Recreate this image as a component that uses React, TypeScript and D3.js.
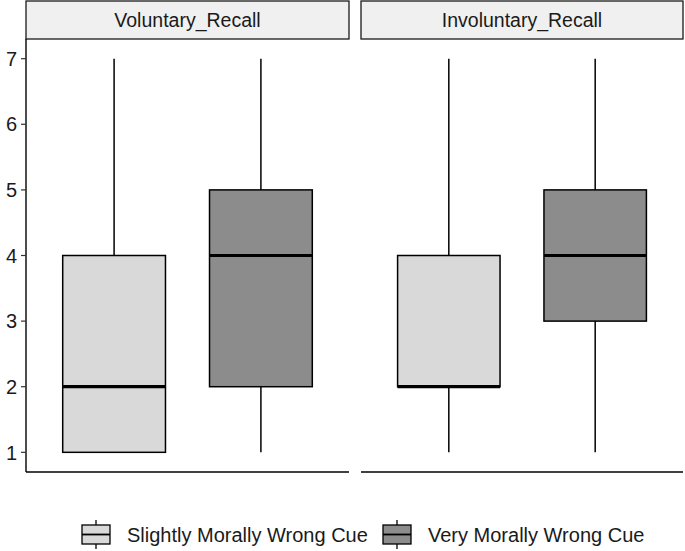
import React from "react";
import * as d3 from "d3";

const facets = ["Voluntary_Recall", "Involuntary_Recall"];
const groups = ["Slightly Morally Wrong Cue", "Very Morally Wrong Cue"];
const groupColors = ["#d9d9d9", "#8c8c8c"];
// [facet][group] = [min, q1, median, q3, max]
const voluntaryStats = [
  [1, 1, 2, 4, 7],
  [1, 2, 4, 5, 7],
];
const involuntaryStats = [
  [1, 2, 2, 4, 7],
  [1, 3, 4, 5, 7],
];
const statsByFacet = [voluntaryStats, involuntaryStats];
const yTicks = [1, 2, 3, 4, 5, 6, 7];

const FONT = "Arial, 'Liberation Sans', sans-serif";

export default function App() {
  const width = 685;
  const height = 551;
  const panelTop = 39;
  const panelBottom = 472;
  const stripTop = 1;
  const panels = [
    { x0: 26, x1: 349 },
    { x0: 361, x1: 683 },
  ];
  const y = d3.scaleLinear().domain([0.7, 7.3]).range([panelBottom, panelTop]);

  return (
    <svg
      width={width}
      height={height}
      style={{ position: "absolute", left: 0, top: 0, background: "#fff" }}
      fontFamily={FONT}
    >
      {panels.map((p, fi) => {
        // discrete positions 1,2 with ggplot-like expansion of 0.6
        const xl = d3.scaleLinear().domain([0.4, 2.6]).range([p.x0, p.x1]);
        const unit = xl(1) - xl(0);
        const boxW = unit * 0.7;
        return (
          <g key={facets[fi]}>
            <rect
              x={p.x0}
              y={stripTop}
              width={p.x1 - p.x0}
              height={panelTop - stripTop}
              fill="#f0f0f0"
              stroke="#1a1a1a"
              strokeWidth={1.3}
            />
            <text
              x={(p.x0 + p.x1) / 2}
              y={(stripTop + panelTop) / 2}
              dy="0.36em"
              textAnchor="middle"
              fontSize={19.5}
              fill="#1a1a1a"
            >
              {facets[fi]}
            </text>
            <line x1={p.x0} x2={p.x1} y1={panelBottom} y2={panelBottom} stroke="#000" strokeWidth={1.4} />
            {groups.map((g, gi) => {
              const s = statsByFacet[fi][gi];
              const cx = xl(gi + 1);
              return (
                <g key={g}>
                  <line x1={cx} x2={cx} y1={y(s[0])} y2={y(s[4])} stroke="#000" strokeWidth={1.5} />
                  <rect
                    x={cx - boxW / 2}
                    y={y(s[3])}
                    width={boxW}
                    height={y(s[1]) - y(s[3])}
                    fill={groupColors[gi]}
                    stroke="#000"
                    strokeWidth={1.5}
                  />
                  <line
                    x1={cx - boxW / 2}
                    x2={cx + boxW / 2}
                    y1={y(s[2])}
                    y2={y(s[2])}
                    stroke="#000"
                    strokeWidth={3.2}
                  />
                </g>
              );
            })}
          </g>
        );
      })}
      <line x1={panels[0].x0} x2={panels[0].x0} y1={panelTop} y2={panelBottom} stroke="#000" strokeWidth={1.4} />
      {yTicks.map((t) => (
        <g key={t}>
          <line x1={panels[0].x0 - 5} x2={panels[0].x0} y1={y(t)} y2={y(t)} stroke="#333" strokeWidth={1.2} />
          <text x={panels[0].x0 - 9} y={y(t)} dy="0.36em" textAnchor="end" fontSize={20} fill="#1a1a1a">
            {t}
          </text>
        </g>
      ))}
      {groups.map((g, gi) => {
        const kx = gi === 0 ? 82 : 383;
        const kw = 28;
        const kTop = 525;
        const kBot = 544;
        const cx = kx + kw / 2;
        return (
          <g key={g}>
            <line x1={cx} x2={cx} y1={520} y2={549} stroke="#000" strokeWidth={1.3} />
            <rect x={kx} y={kTop} width={kw} height={kBot - kTop} fill={groupColors[gi]} stroke="#000" strokeWidth={1.3} />
            <line x1={kx} x2={kx + kw} y1={(kTop + kBot) / 2} y2={(kTop + kBot) / 2} stroke="#000" strokeWidth={1.8} />
            <text x={kx + kw + 17} y={(kTop + kBot) / 2} dy="0.36em" fontSize={20} fill="#1a1a1a">
              {g}
            </text>
          </g>
        );
      })}
    </svg>
  );
}
